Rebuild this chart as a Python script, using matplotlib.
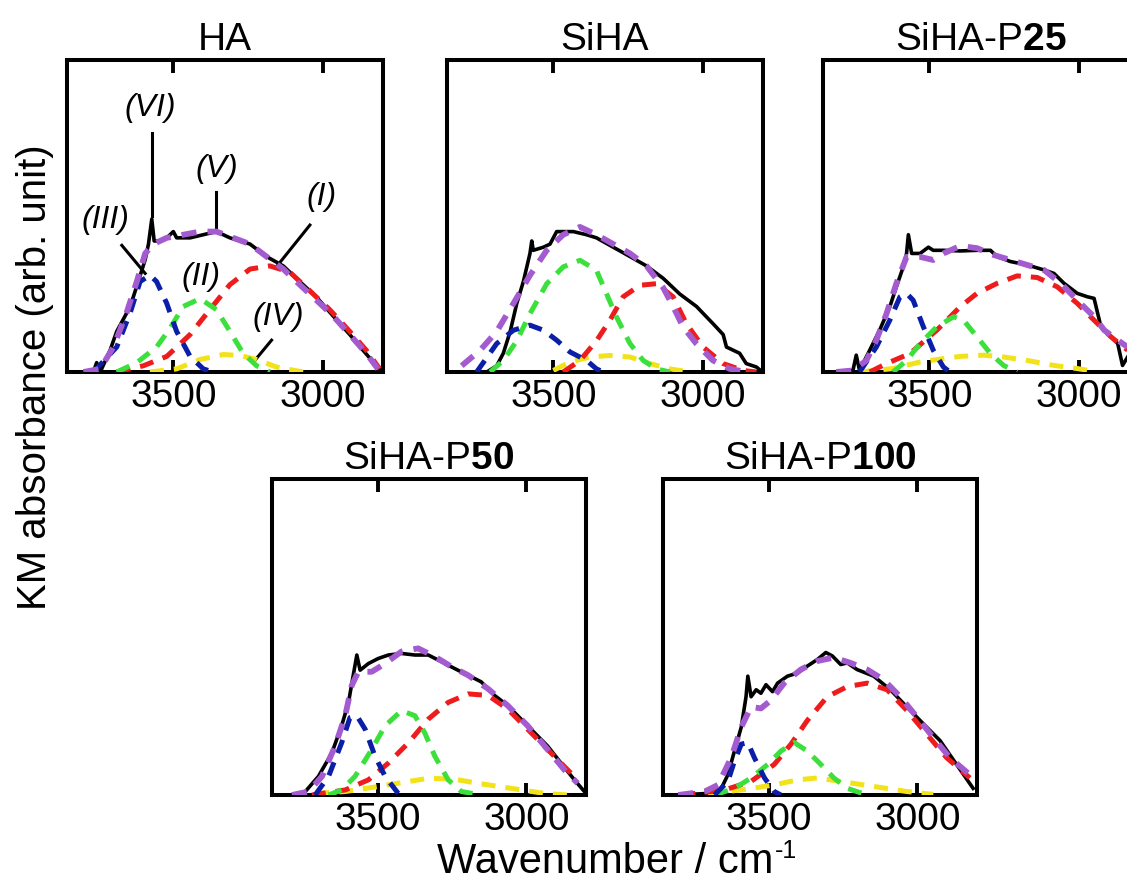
import numpy as np
import matplotlib
matplotlib.use('Agg')
import matplotlib.pyplot as plt

plt.rcParams['font.family'] = ['Liberation Sans', 'DejaVu Sans']
plt.rcParams['mathtext.fontset'] = 'custom'
plt.rcParams['mathtext.rm'] = 'Liberation Sans'
plt.rcParams['mathtext.bf'] = 'Liberation Sans:bold'
plt.rcParams['mathtext.it'] = 'Liberation Sans:italic'

# ---- data: (wavenumber, KM absorbance) ----
# HA
ha_meas = [(3800, 0), (3767, 0), (3756, 0.03), (3744, 0), (3711, 0.07), (3689, 0.13), (3644, 0.21),
           (3617, 0.29), (3594, 0.36), (3583, 0.41), (3572, 0.49), (3564, 0.42), (3544, 0.42),
           (3522, 0.43), (3500, 0.45), (3489, 0.43), (3444, 0.43), (3400, 0.44), (3356, 0.45),
           (3311, 0.43), (3244, 0.41), (3189, 0.37), (3133, 0.34), (3078, 0.29), (3022, 0.24),
           (2967, 0.18), (2911, 0.12), (2867, 0.07), (2822, 0.02), (2800, 0)]
ha_fit = [(3800, 0), (3744, 0.01), (3700, 0.08), (3656, 0.19), (3622, 0.29), (3594, 0.38), (3567, 0.41),
          (3522, 0.43), (3467, 0.44), (3411, 0.45), (3356, 0.45), (3300, 0.43), (3244, 0.41),
          (3189, 0.37), (3133, 0.33), (3078, 0.28), (3022, 0.23), (2967, 0.18), (2911, 0.12),
          (2856, 0.06), (2817, 0.01)]
ha_p1 = [(3689, 0), (3600, 0.02), (3522, 0.05), (3444, 0.12), (3378, 0.20), (3311, 0.28), (3244, 0.33),
         (3178, 0.34), (3111, 0.32), (3044, 0.26), (2978, 0.20), (2911, 0.13), (2856, 0.07), (2811, 0.01)]
ha_p2 = [(3689, 0), (3622, 0.03), (3556, 0.08), (3511, 0.14), (3467, 0.21), (3411, 0.235), (3356, 0.20),
         (3311, 0.13), (3267, 0.06), (3222, 0.02), (3178, 0)]
ha_p3 = [(3767, 0), (3689, 0.08), (3644, 0.19), (3611, 0.29), (3578, 0.31), (3556, 0.29), (3522, 0.22),
         (3489, 0.13), (3444, 0.05), (3400, 0.01), (3367, 0)]
ha_p4 = [(3578, 0), (3489, 0.01), (3411, 0.04), (3333, 0.056), (3278, 0.053), (3222, 0.04),
         (3156, 0.016), (3067, 0)]

# SiHA
siha_meas = [(3722, 0), (3689, 0.02), (3667, 0.06), (3644, 0.13), (3622, 0.22), (3600, 0.29), (3578, 0.38),
             (3572, 0.42), (3567, 0.39), (3533, 0.40), (3511, 0.41), (3489, 0.45), (3467, 0.45),
             (3433, 0.45), (3389, 0.44), (3356, 0.43), (3300, 0.40), (3244, 0.37), (3189, 0.34),
             (3133, 0.30), (3078, 0.25), (3022, 0.21), (2967, 0.155), (2933, 0.12), (2922, 0.08),
             (2878, 0.06), (2856, 0.027), (2822, 0.016), (2802, 0)]
siha_fit = [(3806, 0.02), (3744, 0.07), (3689, 0.13), (3633, 0.22), (3578, 0.31), (3522, 0.39), (3467, 0.44),
            (3411, 0.465), (3356, 0.44), (3300, 0.41), (3244, 0.38), (3189, 0.34), (3133, 0.27),
            (3100, 0.21), (3067, 0.145), (3022, 0.09), (2967, 0.037), (2911, 0.01), (2856, 0)]
siha_p1 = [(3467, 0), (3411, 0.037), (3356, 0.10), (3311, 0.166), (3267, 0.241), (3211, 0.278),
           (3156, 0.283), (3100, 0.241), (3056, 0.155), (3000, 0.08), (2933, 0.027), (2867, 0.005), (2822, 0)]
siha_p2 = [(3711, 0), (3667, 0.037), (3622, 0.10), (3578, 0.187), (3522, 0.283), (3467, 0.337),
           (3411, 0.358), (3356, 0.326), (3322, 0.25), (3289, 0.176), (3244, 0.091), (3200, 0.037),
           (3156, 0.01), (3111, 0)]
siha_p3 = [(3756, 0), (3689, 0.091), (3633, 0.134), (3578, 0.15), (3533, 0.134), (3489, 0.102),
           (3444, 0.064), (3389, 0.037), (3356, 0.01), (3333, 0)]
siha_p4 = [(3500, 0.005), (3444, 0.032), (3378, 0.048), (3311, 0.053), (3244, 0.048), (3178, 0.027),
           (3111, 0.01), (3044, 0)]

# SiHA-P25
p25_meas = [(3811, 0), (3755, 0.005), (3744, 0.054), (3733, 0.005), (3699, 0.07), (3666, 0.134),
            (3632, 0.209), (3610, 0.273), (3587, 0.337), (3576, 0.38), (3570, 0.44), (3559, 0.38),
            (3531, 0.38), (3503, 0.40), (3487, 0.39), (3453, 0.39), (3397, 0.388), (3341, 0.39),
            (3296, 0.39), (3274, 0.37), (3229, 0.354), (3173, 0.343), (3117, 0.327), (3084, 0.316),
            (3050, 0.284), (3006, 0.252), (2972, 0.241), (2950, 0.236), (2938, 0.188), (2927, 0.145),
            (2894, 0.113), (2871, 0.091), (2855, 0.021), (2838, 0.048)]
p25_fit = [(3811, 0), (3755, 0.005), (3710, 0.037), (3677, 0.102), (3643, 0.187), (3610, 0.284),
           (3576, 0.369), (3531, 0.369), (3487, 0.359), (3453, 0.38), (3397, 0.404), (3341, 0.397),
           (3285, 0.375), (3229, 0.359), (3173, 0.343), (3117, 0.327), (3061, 0.284), (3006, 0.230),
           (2950, 0.177), (2916, 0.134), (2871, 0.102), (2838, 0.080)]
p25_p1 = [(3699, 0), (3643, 0.027), (3565, 0.059), (3475, 0.134), (3397, 0.209), (3341, 0.252),
          (3274, 0.284), (3207, 0.308), (3140, 0.303), (3073, 0.273), (3006, 0.220), (2950, 0.166),
          (2894, 0.113), (2838, 0.070)]
p25_p2 = [(3621, 0), (3576, 0.037), (3531, 0.091), (3475, 0.145), (3419, 0.177), (3386, 0.166),
          (3341, 0.113), (3296, 0.059), (3252, 0.021), (3207, 0)]
p25_p3 = [(3733, 0), (3677, 0.080), (3632, 0.166), (3598, 0.241), (3576, 0.252), (3554, 0.230),
          (3520, 0.145), (3487, 0.070), (3453, 0.016), (3431, 0)]
p25_p4 = [(3733, 0), (3621, 0.011), (3531, 0.032), (3453, 0.043), (3397, 0.05), (3319, 0.054),
          (3252, 0.048), (3173, 0.037), (3084, 0.021), (3006, 0.011), (2950, 0.002)]

# SiHA-P50
p50_meas = [(3788, 0), (3743, 0.011), (3699, 0.059), (3654, 0.133), (3621, 0.219), (3598, 0.293),
            (3582, 0.379), (3570, 0.443), (3559, 0.395), (3531, 0.416), (3498, 0.432), (3464, 0.443),
            (3420, 0.448), (3375, 0.443), (3330, 0.443), (3286, 0.422), (3241, 0.40), (3196, 0.379),
            (3152, 0.358), (3107, 0.315), (3063, 0.283), (3018, 0.24), (2973, 0.197), (2929, 0.155),
            (2884, 0.101), (2839, 0.048), (2800, 0.005)]
p50_fit = [(3788, 0), (3732, 0.011), (3687, 0.059), (3643, 0.155), (3609, 0.251), (3587, 0.347),
           (3565, 0.39), (3520, 0.39), (3475, 0.416), (3420, 0.454), (3364, 0.464), (3308, 0.438),
           (3252, 0.406), (3196, 0.379), (3129, 0.336), (3063, 0.283), (2996, 0.219), (2929, 0.144),
           (2873, 0.08), (2828, 0.037)]
p50_p1 = [(3721, 0), (3609, 0.016), (3531, 0.048), (3464, 0.101), (3397, 0.165), (3330, 0.24),
          (3263, 0.293), (3196, 0.32), (3129, 0.315), (3063, 0.272), (2996, 0.208), (2929, 0.144),
          (2862, 0.08), (2828, 0.048)]
p50_p2 = [(3665, 0), (3621, 0.016), (3576, 0.059), (3520, 0.144), (3475, 0.219), (3420, 0.267),
          (3375, 0.251), (3342, 0.197), (3308, 0.123), (3263, 0.048), (3219, 0.011), (3152, 0)]
p50_p3 = [(3710, 0), (3665, 0.059), (3621, 0.165), (3593, 0.245), (3570, 0.251), (3542, 0.208),
          (3509, 0.123), (3475, 0.059), (3431, 0.005)]
p50_p4 = [(3710, 0.005), (3609, 0.011), (3498, 0.027), (3420, 0.039), (3330, 0.053), (3241, 0.05),
          (3163, 0.037), (3051, 0.021), (2940, 0.005), (2862, 0)]

# SiHA-P100
p100_meas = [(3804, 0), (3704, 0.005), (3659, 0.021), (3637, 0.064), (3615, 0.139), (3592, 0.215),
             (3576, 0.311), (3570, 0.376), (3559, 0.311), (3542, 0.333), (3526, 0.322), (3509, 0.349),
             (3487, 0.327), (3470, 0.354), (3437, 0.376), (3403, 0.386), (3370, 0.408), (3336, 0.429),
             (3308, 0.451), (3286, 0.44), (3258, 0.413), (3236, 0.418), (3203, 0.397), (3147, 0.376),
             (3091, 0.333), (3036, 0.279), (2980, 0.225), (2924, 0.172), (2869, 0.097), (2813, 0.021)]
p100_fit = [(3804, 0), (3715, 0.011), (3670, 0.032), (3626, 0.118), (3592, 0.215), (3559, 0.279),
            (3526, 0.274), (3492, 0.30), (3448, 0.354), (3392, 0.397), (3336, 0.424), (3281, 0.435),
            (3225, 0.418), (3169, 0.397), (3114, 0.365), (3058, 0.311), (3002, 0.247), (2947, 0.182),
            (2891, 0.118), (2824, 0.064)]
p100_p1 = [(3793, 0), (3648, 0.016), (3559, 0.043), (3481, 0.097), (3425, 0.161), (3370, 0.236),
           (3303, 0.311), (3236, 0.343), (3169, 0.354), (3102, 0.333), (3036, 0.268), (2969, 0.193),
           (2902, 0.118), (2824, 0.054)]
p100_p2 = [(3682, 0), (3615, 0.021), (3559, 0.054), (3503, 0.097), (3459, 0.139), (3414, 0.166),
           (3370, 0.139), (3325, 0.097), (3281, 0.054), (3236, 0.021), (3169, 0)]
p100_p3 = [(3682, 0), (3637, 0.043), (3615, 0.107), (3592, 0.161), (3570, 0.166), (3548, 0.118),
           (3514, 0.054), (3481, 0.011), (3459, 0)]
p100_p4 = [(3704, 0.005), (3592, 0.016), (3481, 0.032), (3403, 0.048), (3336, 0.054), (3258, 0.043),
           (3147, 0.027), (3036, 0.011), (2947, 0.002)]

titles = ['HA', 'SiHA', 'SiHA-P$\\mathbf{25}$', 'SiHA-P$\\mathbf{50}$', 'SiHA-P$\\mathbf{100}$']
panels = [
    (ha_meas, ha_fit, ha_p1, ha_p2, ha_p3, ha_p4),
    (siha_meas, siha_fit, siha_p1, siha_p2, siha_p3, siha_p4),
    (p25_meas, p25_fit, p25_p1, p25_p2, p25_p3, p25_p4),
    (p50_meas, p50_fit, p50_p1, p50_p2, p50_p3, p50_p4),
    (p100_meas, p100_fit, p100_p1, p100_p2, p100_p3, p100_p4),
]
xticks = [3500, 3000]

# component colours: (I) red, (II) green, (III) blue, (IV) yellow
comp_colors = ['#EE1C1C', '#3CE03C', '#0A1EA8', '#F2E21A']
fit_color = '#A45BD0'

fig = plt.figure(figsize=(11.27, 8.83), dpi=100)
W, H = 1127, 883
# axes boxes in pixels: left, top, right, bottom
boxes = [(67, 60, 383, 372), (447, 60, 763, 372), (823, 60, 1139, 372),
         (272, 479, 586, 795), (663, 479, 977, 795)]

axes = []
for (l, t, r, b), title, data in zip(boxes, titles, panels):
    ax = fig.add_axes([l / W, (H - b) / H, (r - l) / W, (b - t) / H])
    meas, fit, p1, p2, p3, p4 = data
    m = np.array(meas)
    ax.plot(m[:, 0], m[:, 1], color='black', lw=2.6, zorder=3)
    for comp, col in zip([p4, p1, p2, p3], [comp_colors[3], comp_colors[0], comp_colors[1], comp_colors[2]]):
        c = np.array(comp)
        ax.plot(c[:, 0], c[:, 1], color=col, lw=3.6, ls=(0, (2.8, 2.0)), zorder=4)
    f = np.array(fit)
    ax.plot(f[:, 0], f[:, 1], color=fit_color, lw=4.2, ls=(0, (2.6, 1.9)), zorder=5)

    ax.set_xlim(3855, 2800)
    ax.set_ylim(0, 1)
    ax.set_xticks(xticks)
    ax.set_yticks([])
    ax.tick_params(axis='x', direction='in', top=True, bottom=True, length=9, width=2.8,
                   labelsize=28, pad=5)
    for s in ax.spines.values():
        s.set_linewidth(2.9)
    ax.set_title(title, fontsize=28, pad=7)
    axes.append(ax)

# peak labels in the HA panel
ax = axes[0]
lab_kw = dict(fontsize=23, style='italic', ha='center', va='center')
ax.text(3578, 0.845, '(VI)', **lab_kw)
ax.plot([3570, 3570], [0.765, 0.50], color='black', lw=2.2)
ax.text(3356, 0.652, '(V)', **lab_kw)
ax.plot([3356, 3356], [0.578, 0.455], color='black', lw=2.2)
ax.text(3006, 0.561, '(I)', **lab_kw)
ax.plot([3044, 3156], [0.471, 0.337], color='black', lw=2.2)
ax.text(3728, 0.487, '(III)', **lab_kw)
ax.plot([3672, 3594], [0.406, 0.316], color='black', lw=2.2)
ax.text(3406, 0.305, '(II)', **lab_kw)
ax.text(3150, 0.176, '(IV)', **lab_kw)
ax.plot([3172, 3228], [0.102, 0.037], color='black', lw=2.2)

fig.text(35 / W, 1 - 377 / H, 'KM absorbance (arb. unit)', rotation=90, fontsize=29,
         ha='center', va='center')
xl = fig.text(437 / W, 1 - 862 / H, 'Wavenumber / cm', fontsize=30, ha='left', va='center')
fig.canvas.draw()
bb = xl.get_window_extent()
fig.text(bb.x1 / W + 0.001, 1 - 851 / H, '-1', fontsize=18, ha='left', va='center')

fig.savefig('out.png', dpi=100)
